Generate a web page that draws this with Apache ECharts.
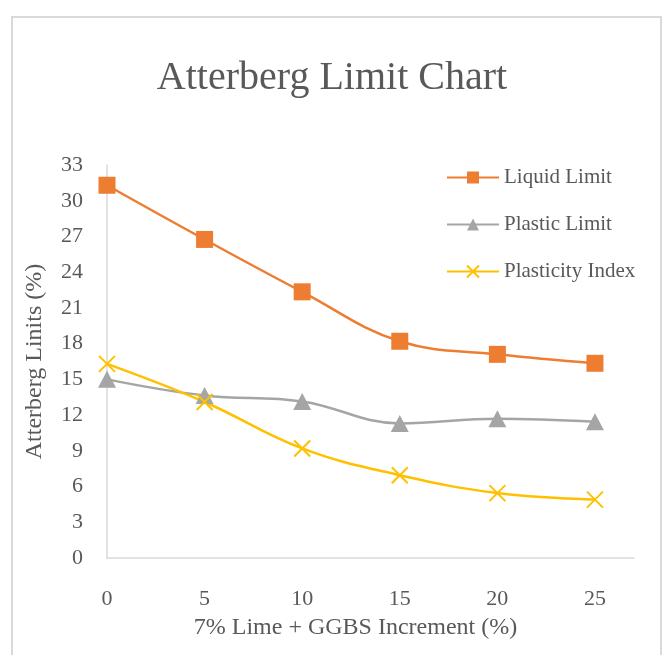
<!DOCTYPE html>
<html>
<head>
<meta charset="utf-8">
<script src="https://cdn.jsdelivr.net/npm/echarts@6/dist/echarts.min.js"></script>
<style>
html,body{margin:0;padding:0;background:#fff;}
#chart{width:664px;height:655px;}
</style>
</head>
<body>
<div id="chart"></div>
<script>
var increments = [0, 5, 10, 15, 20, 25];
var liquidLimit = [31.3, 26.75, 22.35, 18.2, 17.1, 16.35];
var plasticLimit = [15.0, 13.65, 13.15, 11.3, 11.7, 11.45];
var plasticityIndex = [16.3, 13.1, 9.2, 6.95, 5.45, 4.9];
var seriesNames = ['Liquid Limit', 'Plastic Limit', 'Plasticity Index'];
var titleText = 'Atterberg Limit Chart';
var xAxisTitle = '7% Lime + GGBS Increment (%)';
var yAxisTitle = 'Atterberg Linits (%)';

function pairs(xs, ys) { return xs.map(function (x, i) { return [x, ys[i]]; }); }

var serif = '"Liberation Serif", "DejaVu Serif", serif';
var textColor = '#595959';
var chart = echarts.init(document.getElementById('chart'));
chart.setOption({
  backgroundColor: '#fff',
  animation: false,
  graphic: [{
    type: 'rect', silent: true, z: -1,
    shape: { x: 12, y: 17, width: 649, height: 700 },
    style: { fill: 'none', stroke: '#D9D9D9', lineWidth: 2 }
  }],
  title: {
    text: titleText, left: 'center', top: 53,
    textStyle: { fontFamily: serif, fontWeight: 'normal', fontSize: 40, color: textColor }
  },
  legend: {
    orient: 'vertical', left: 446, top: 167, padding: 0,
    itemWidth: 52, itemHeight: 15, itemGap: 26,
    textStyle: { fontFamily: serif, fontSize: 21, color: textColor },
    data: seriesNames
  },
  grid: { left: 107, right: 30, top: 165, bottom: 97, containLabel: false },
  xAxis: {
    type: 'value', min: 0, max: 27, interval: 5,
    name: xAxisTitle, nameLocation: 'middle', nameGap: 58,
    nameTextStyle: { fontFamily: serif, fontSize: 24, color: textColor, padding: [0, 30, 0, 0] },
    axisLine: { show: true, onZero: false, lineStyle: { color: '#D9D9D9', width: 1.5 } },
    axisTick: { show: false },
    splitLine: { show: false },
    axisLabel: { fontFamily: serif, fontSize: 22, color: textColor, margin: 30, showMaxLabel: false }
  },
  yAxis: {
    type: 'value', min: 0, max: 33, interval: 3,
    name: yAxisTitle, nameLocation: 'middle', nameGap: 60, nameRotate: 90,
    nameTextStyle: { fontFamily: serif, fontSize: 24, color: textColor },
    axisLine: { show: true, lineStyle: { color: '#D9D9D9', width: 1.5 } },
    axisTick: { show: false },
    splitLine: { show: false },
    axisLabel: { fontFamily: serif, fontSize: 22, color: textColor, margin: 24 }
  },
  series: [{
    name: seriesNames[0], type: 'line', smooth: 0.4,
    data: pairs(increments, liquidLimit),
    symbol: 'rect', symbolSize: 17,
    lineStyle: { color: '#ED7D31', width: 2.5 },
    itemStyle: { color: '#ED7D31' }
  }, {
    name: seriesNames[1], type: 'line', smooth: 0.4,
    data: pairs(increments, plasticLimit),
    symbol: 'triangle', symbolSize: [18, 17],
    lineStyle: { color: '#A5A5A5', width: 2.5 },
    itemStyle: { color: '#A5A5A5' }
  }, {
    name: seriesNames[2], type: 'line', smooth: 0.4,
    data: pairs(increments, plasticityIndex),
    symbol: 'path://M0,0L10,10M10,0L0,10', symbolSize: 16,
    lineStyle: { color: '#FFC000', width: 2.5 },
    itemStyle: { color: '#FFC000', borderColor: '#FFC000', borderWidth: 2 }
  }]
});
</script>
</body>
</html>
